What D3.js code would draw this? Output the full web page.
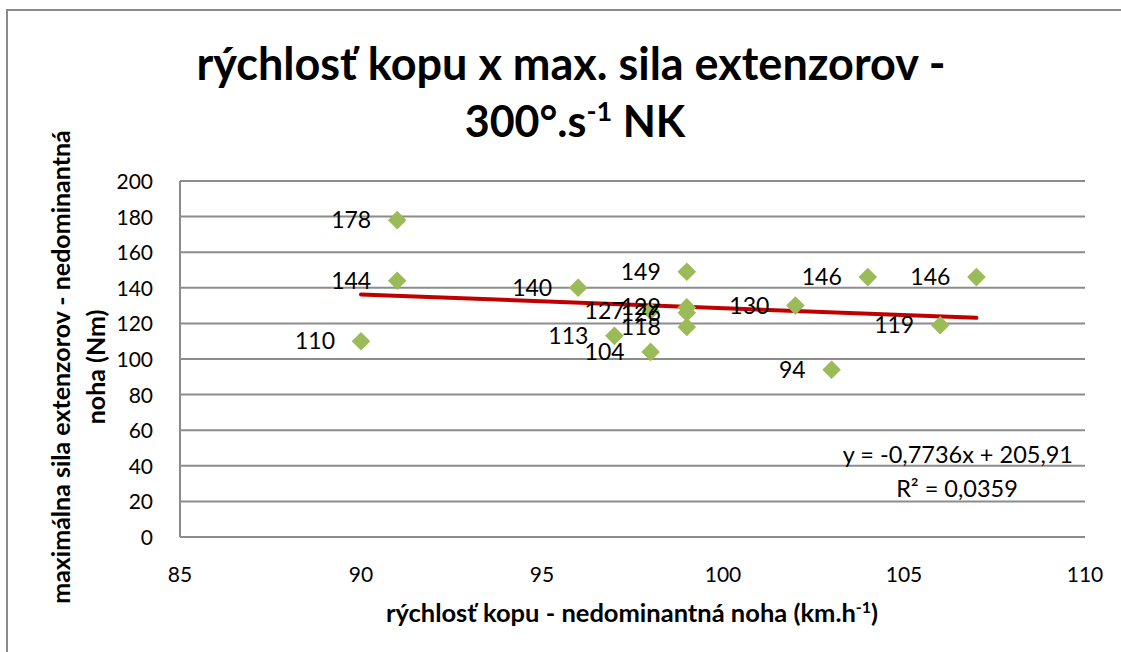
<!DOCTYPE html>
<html>
<head>
<meta charset="utf-8">
<script src="https://cdn.jsdelivr.net/npm/d3@7"></script>
<style>
  body { margin: 0; background: #fff; }
  text { font-family: Lato, "Open Sans", sans-serif; fill: #000; }
</style>
</head>
<body>
<svg id="chart" width="1121" height="652"></svg>
<script>
// kick speed (km/h) vs. max extensor force (Nm), non-dominant leg
const speeds = [90, 91, 91, 96, 97, 98, 98, 99, 99, 99, 99, 102, 103, 104, 106, 107]
const forces = [110, 178, 144, 140, 113, 104, 127, 149, 129, 126, 118, 130, 94, 146, 119, 146]
const xTicks = [85, 90, 95, 100, 105, 110]
const yTicks = [0, 20, 40, 60, 80, 100, 120, 140, 160, 180, 200]
const trend = { slope: -0.7736, intercept: 205.91, r2: '0,0359' }

const points = speeds.map((s, i) => ({ x: s, y: forces[i] }))

const svg = d3.select('#chart')
const margin = { left: 180, top: 181, right: 1085, bottom: 537 }

const x = d3.scaleLinear().domain([85, 110]).range([margin.left, margin.right])
const y = d3.scaleLinear().domain([0, 200]).range([margin.bottom, margin.top])

// outer chart border (right / bottom edges fall outside the picture)
svg.append('rect')
  .attr('x', 7).attr('y', 10).attr('width', 1200).attr('height', 700)
  .attr('fill', 'none').attr('stroke', '#8a8a8a').attr('stroke-width', 2)

// horizontal gridlines
svg.append('g')
  .selectAll('line')
  .data(yTicks)
  .join('line')
  .attr('x1', margin.left).attr('x2', margin.right)
  .attr('y1', d => y(d)).attr('y2', d => y(d))
  .attr('stroke', '#8c8c8c').attr('stroke-width', 2)

// y axis line
svg.append('line')
  .attr('x1', margin.left).attr('x2', margin.left)
  .attr('y1', margin.top).attr('y2', margin.bottom)
  .attr('stroke', '#8c8c8c').attr('stroke-width', 2)

// tick labels
svg.append('g')
  .selectAll('text')
  .data(yTicks)
  .join('text')
  .attr('x', 153).attr('y', d => y(d) + 8)
  .attr('text-anchor', 'end')
  .attr('font-size', 21)
  .text(d => d)

svg.append('g')
  .selectAll('text')
  .data(xTicks)
  .join('text')
  .attr('x', d => x(d)).attr('y', 582)
  .attr('text-anchor', 'middle')
  .attr('font-size', 21)
  .text(d => d)

// trendline over the data range
const [xMin, xMax] = d3.extent(speeds)
svg.append('line')
  .attr('x1', x(xMin)).attr('y1', y(trend.slope * xMin + trend.intercept))
  .attr('x2', x(xMax)).attr('y2', y(trend.slope * xMax + trend.intercept))
  .attr('stroke', '#c00000').attr('stroke-width', 4).attr('stroke-linecap', 'round')

// diamond markers
const diamond = d3.symbol().type(d3.symbolDiamond2).size(220)
svg.append('g')
  .selectAll('path')
  .data(points)
  .join('path')
  .attr('d', diamond)
  .attr('transform', d => `translate(${x(d.x)},${y(d.y)})`)
  .attr('fill', '#9bbb59')

// data labels, left of points
svg.append('g')
  .selectAll('text')
  .data(points)
  .join('text')
  .attr('x', d => x(d.x) - 26).attr('y', d => y(d.y) + 8)
  .attr('text-anchor', 'end')
  .attr('font-size', 23)
  .text(d => d.y)

// regression equation
svg.append('text')
  .attr('x', 1073).attr('y', 463)
  .attr('text-anchor', 'end')
  .attr('font-size', 23.5)
  .text(`y = ${String(trend.slope).replace('.', ',')}x + ${String(trend.intercept).replace('.', ',')}`)

svg.append('text')
  .attr('x', 957).attr('y', 497)
  .attr('text-anchor', 'middle')
  .attr('font-size', 23.5)
  .text(`R² = ${trend.r2}`)

// title
svg.append('text')
  .attr('x', 571).attr('y', 80)
  .attr('text-anchor', 'middle')
  .attr('font-size', 45).attr('font-weight', 'bold')
  .text('rýchlosť kopu x max. sila extenzorov -')

const t2 = svg.append('text')
  .attr('x', 575).attr('y', 137)
  .attr('text-anchor', 'middle')
  .attr('font-size', 43).attr('font-weight', 'bold')
t2.append('tspan').text('300°.s')
t2.append('tspan').attr('font-size', 27).attr('dy', -16).text('-1')
t2.append('tspan').attr('dy', 16).text(' NK')

// x axis title
const xt = svg.append('text')
  .attr('x', 632).attr('y', 622)
  .attr('text-anchor', 'middle')
  .attr('font-size', 25.5).attr('font-weight', 'bold')
xt.append('tspan').text('rýchlosť kopu - nedominantná noha (km.h')
xt.append('tspan').attr('font-size', 16).attr('dy', -9).text('-1')
xt.append('tspan').attr('dy', 9).text(')')

// y axis title, two lines rotated
const yt = svg.append('g').attr('transform', 'translate(0,367) rotate(-90)')
yt.append('text')
  .attr('x', 0).attr('y', 70)
  .attr('text-anchor', 'middle')
  .attr('font-size', 25).attr('font-weight', 'bold')
  .text('maximálna sila extenzorov - nedominantná')
yt.append('text')
  .attr('x', 0).attr('y', 105)
  .attr('text-anchor', 'middle')
  .attr('font-size', 25).attr('font-weight', 'bold')
  .text('noha (Nm)')
</script>
</body>
</html>
